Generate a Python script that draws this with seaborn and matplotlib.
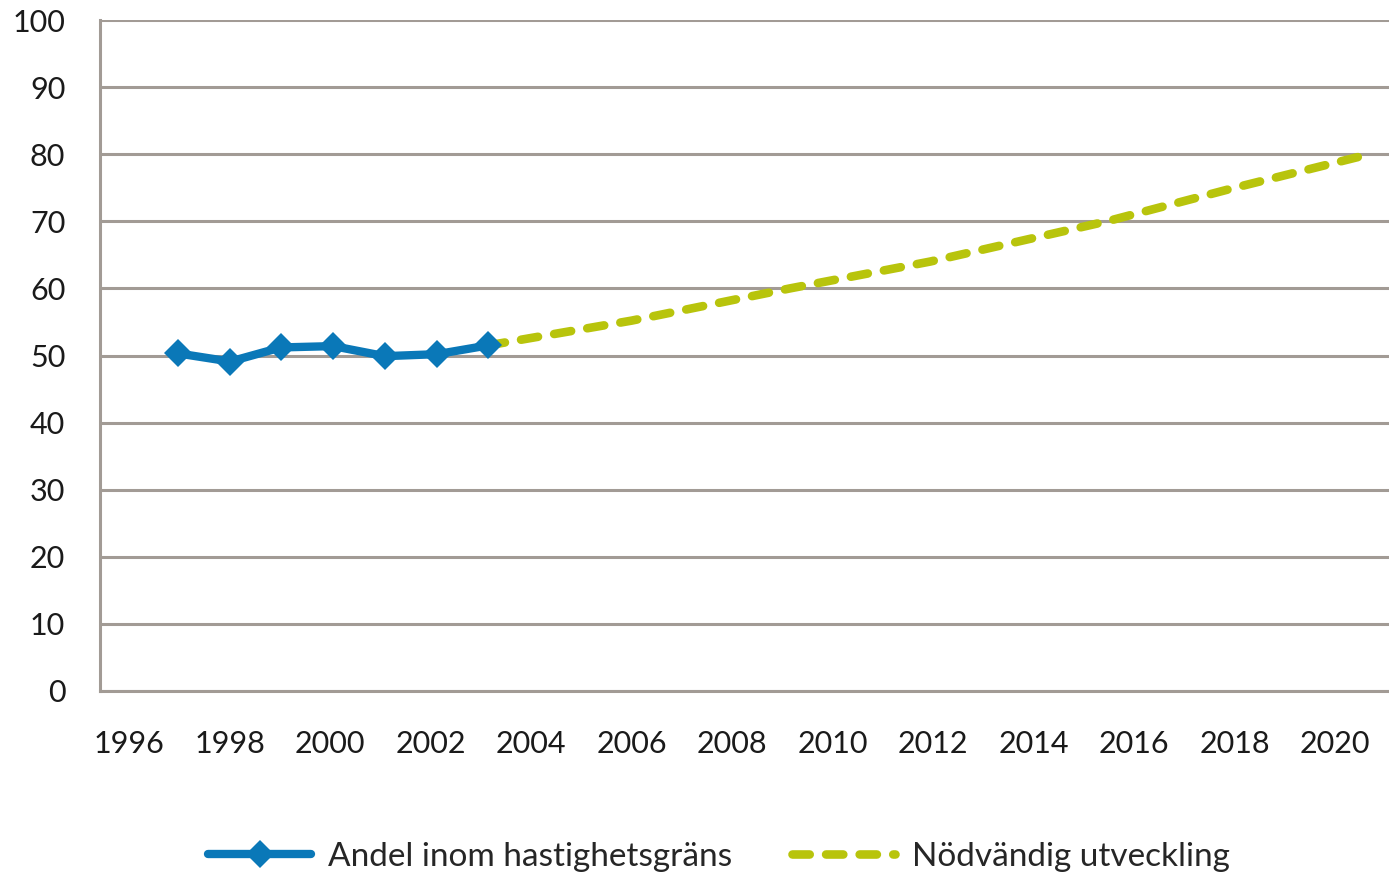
import numpy as np
import pandas as pd
import matplotlib
matplotlib.use("Agg")
import matplotlib.pyplot as plt
from matplotlib.ticker import MultipleLocator, FuncFormatter
import seaborn as sns

# data
years_obs = [1996.98, 1998.01, 1999.02, 2000.06, 2001.09, 2002.13, 2003.14]
share_obs = [50.3, 49.1, 51.2, 51.4, 49.9, 50.2, 51.5]

years_need = [2003.14, 2006.0, 2009.15, 2011.94, 2015.46, 2018.0, 2020.68]
share_need = [51.5, 55.2, 60.0, 64.0, 70.0, 75.0, 80.0]

label_obs = "Andel inom hastighetsgräns"
label_need = "Nödvändig utveckling"

blue = "#0a78b8"
green = "#b8c40c"
grid_col = "#a29b95"

sns.set_style("white")
plt.rcParams['font.family'] = ['Lato', 'DejaVu Sans']

df_obs = pd.DataFrame({"year": years_obs, "share": share_obs})
df_need = pd.DataFrame({"year": years_need, "share": share_need})

fig = plt.figure(figsize=(13.89, 8.76), dpi=100)
ax = fig.add_axes([100 / 1389, 1 - 691 / 876, 1 - 100 / 1389, 671 / 876])

sns.lineplot(data=df_need, x="year", y="share", ax=ax, color=green, lw=6.2,
             label=label_need, dashes=False, zorder=2)
need_line = ax.lines[-1]
need_line.set_dashes((2.0, 1.9))
need_line.set_dash_capstyle("round")

sns.lineplot(data=df_obs, x="year", y="share", ax=ax, color=blue, lw=6.0,
             marker="D", markersize=14, markeredgewidth=0,
             label=label_obs, zorder=3)

ax.set_xlim(1995.42, 2021.07)
ax.set_ylim(0, 100)
ax.set_xlabel("")
ax.set_ylabel("")

ax.yaxis.set_major_locator(MultipleLocator(10))
ax.xaxis.set_major_locator(MultipleLocator(1))
ax.xaxis.set_major_formatter(FuncFormatter(lambda v, p: f"{int(round(v))}" if int(round(v)) % 2 == 0 else ""))

ax.grid(axis="y", color=grid_col, lw=2.2)
ax.set_axisbelow(True)
for s in ["top", "right"]:
    ax.spines[s].set_visible(False)
for s in ["left", "bottom"]:
    ax.spines[s].set_color(grid_col)
    ax.spines[s].set_linewidth(2.2)

ax.tick_params(axis="both", direction="out", length=9, width=2.2, color=grid_col,
               labelsize=22, labelcolor="#1a1a1a", pad=16)
ax.tick_params(axis="x", pad=19)

ax.get_legend().remove()
handles, labels = ax.get_legend_handles_labels()
order = [labels.index(label_obs), labels.index(label_need)]
fig.legend([handles[i] for i in order], [labels[i] for i in order],
           loc="center", bbox_to_anchor=(719 / 1389, 1 - 857 / 876), ncol=2,
           frameon=False, fontsize=24, handlelength=3.1, handletextpad=0.5,
           columnspacing=1.8)

fig.savefig("out.png", dpi=100)
